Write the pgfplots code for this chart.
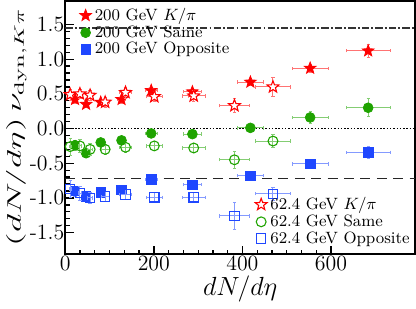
\documentclass[border=0pt]{standalone}
\usepackage{graphicx}
\usepackage{pgfplots}
\usepackage{pgfplotstable}
\pgfplotsset{compat=1.18}
\definecolor{cred}{rgb}{1,0,0}
\definecolor{cgreen}{rgb}{0.12,0.64,0.0}
\definecolor{cblue}{rgb}{0.12,0.28,1.0}

\pgfdeclareplotmark{fivestar}{%
  \pgfpathmoveto{\pgfpointpolar{90}{\pgfplotmarksize}}%
  \pgfpathlineto{\pgfpointpolar{126}{0.42\pgfplotmarksize}}%
  \pgfpathlineto{\pgfpointpolar{162}{\pgfplotmarksize}}%
  \pgfpathlineto{\pgfpointpolar{198}{0.42\pgfplotmarksize}}%
  \pgfpathlineto{\pgfpointpolar{234}{\pgfplotmarksize}}%
  \pgfpathlineto{\pgfpointpolar{270}{0.42\pgfplotmarksize}}%
  \pgfpathlineto{\pgfpointpolar{306}{\pgfplotmarksize}}%
  \pgfpathlineto{\pgfpointpolar{342}{0.42\pgfplotmarksize}}%
  \pgfpathlineto{\pgfpointpolar{18}{\pgfplotmarksize}}%
  \pgfpathlineto{\pgfpointpolar{54}{0.42\pgfplotmarksize}}%
  \pgfpathclose
  \pgfusepathqfillstroke
}

\pgfplotstableread{
x y ex ey
22 0.42 3 0.05
47 0.35 4 0.05
80 0.38 6 0.04
127 0.42 9 0.05
194 0.55 14 0.05
287 0.53 20 0.05
418 0.67 30 0.05
553 0.87 40 0.06
684 1.12 50 0.10
}\hkpi
\pgfplotstableread{
x y ex ey
22 -0.24 3 0.07
47 -0.355 4 0.06
80 -0.20 6 0.05
127 -0.17 9 0.06
194 -0.07 14 0.05
287 -0.08 20 0.05
418 0.01 30 0.04
553 0.16 40 0.09
684 0.30 50 0.13
}\hsame
\pgfplotstableread{
x y ex ey
22 -0.90 3 0.07
47 -0.98 4 0.06
80 -0.92 6 0.05
127 -0.88 9 0.05
194 -0.73 14 0.05
287 -0.81 20 0.05
418 -0.68 30 0.04
553 -0.51 40 0.07
684 -0.34 50 0.09
}\hopp
\pgfplotstableread{
x y ex ey
11 0.49 2 0.08
33 0.50 4 0.07
56 0.48 6 0.07
90 0.38 9 0.07
136 0.52 13 0.08
201 0.46 19 0.07
290 0.47 26 0.08
382 0.33 33 0.10
469 0.60 40 0.14
}\lkpi
\pgfplotstableread{
x y ex ey
11 -0.26 2 0.12
33 -0.25 4 0.10
56 -0.30 6 0.08
90 -0.30 9 0.07
136 -0.27 13 0.07
201 -0.25 19 0.07
290 -0.28 26 0.07
382 -0.45 33 0.12
469 -0.18 40 0.09
}\lsame
\pgfplotstableread{
x y ex ey
11 -0.87 2 0.12
33 -0.93 4 0.10
56 -1.00 6 0.08
90 -0.98 9 0.07
136 -0.95 13 0.07
201 -0.99 19 0.07
290 -0.99 26 0.07
382 -1.26 33 0.19
469 -0.94 40 0.09
}\lopp

\pgfplotsset{
  common/.style={
    scale only axis, width=192pt, height=139pt,
    xmin=0, xmax=790, ymin=-1.81, ymax=1.84,
  },
  ebar/.style={
    error bars/.cd, x dir=both, y dir=both, x explicit, y explicit,
    error bar style={color=#1!55, line width=0.55pt},
    error mark options={rotate=90, mark size=0.9pt, color=#1!55},
  },
  mylegend/.style={draw=none, fill=none, font=\small, inner sep=1pt,
    nodes={inner xsep=1.8pt, inner ysep=0.6pt}, row sep=0.2pt},
}

\begin{document}
\begin{tikzpicture}
\begin{axis}[common,
  axis line style={line width=1pt},
  tick style={black, line width=0.7pt},
  major tick length=4.5pt, minor tick length=2.5pt,
  tick align=inside,
  xtick={0,200,400,600}, minor x tick num=5,
  ytick={-1.5,-1,-0.5,0,0.5,1,1.5}, minor y tick num=4,
  yticklabels={-1.5,-1.0,-0.5,0.0,0.5,1.0,1.5},
  xtick pos=bottom, ytick pos=left,
  ticklabel style={font=\large},
  yticklabel style={xshift=3pt},
  xticklabel style={yshift=2.5pt},
  xlabel={$dN/d\eta$},
  ylabel={\scalebox{1.36}[0.75]{$(dN/d\eta)\,\nu_{\mathrm{dyn},K\pi}$}},
  label style={font=\Large},
  xlabel style={yshift=3.5pt}, ylabel style={yshift=-5pt},
  legend style={mylegend, at={(0.035,0.985)}, anchor=north west},
  legend cell align=left,
]
\draw[black!80, line width=0.8pt, dash pattern=on 4pt off 1.2pt on 1pt off 1.2pt] (axis cs:0,1.45) -- (axis cs:790,1.45);
\draw[black, line width=0.8pt, densely dotted] (axis cs:0,0) -- (axis cs:790,0);
\draw[black!85, line width=0.9pt, dash pattern=on 5.5pt off 3.5pt] (axis cs:0,-0.72) -- (axis cs:790,-0.72);
\addplot[only marks, color=cred, mark=fivestar, mark size=3.4pt, mark options={fill=cred, draw=cred}, ebar=cred]
  table[x=x, y=y, x error=ex, y error=ey] {\hkpi};
\addlegendentry{200 GeV $K/\pi$}
\addplot[only marks, color=cgreen, mark=*, mark size=2.7pt, mark options={fill=cgreen, draw=cgreen}, ebar=cgreen]
  table[x=x, y=y, x error=ex, y error=ey] {\hsame};
\addlegendentry{200 GeV Same}
\addplot[only marks, color=cblue, mark=square*, mark size=2.6pt, mark options={fill=cblue, draw=cblue}, ebar=cblue]
  table[x=x, y=y, x error=ex, y error=ey] {\hopp};
\addlegendentry{200 GeV Opposite}
\end{axis}
\begin{axis}[common, hide axis,
  legend style={mylegend, at={(1.0,0.02)}, anchor=south east},
  legend cell align=left,
]
\addplot[only marks, color=cred, mark=fivestar, mark size=3.4pt, mark options={fill=white, draw=cred, line width=0.6pt}, ebar=cred]
  table[x=x, y=y, x error=ex, y error=ey] {\lkpi};
\addlegendentry{62.4 GeV $K/\pi$}
\addplot[only marks, color=cgreen, mark=o, mark size=2.7pt, mark options={fill=white, draw=cgreen, line width=0.6pt}, ebar=cgreen]
  table[x=x, y=y, x error=ex, y error=ey] {\lsame};
\addlegendentry{62.4 GeV Same}
\addplot[only marks, color=cblue, mark=square, mark size=2.6pt, mark options={fill=white, draw=cblue, line width=0.6pt}, ebar=cblue]
  table[x=x, y=y, x error=ex, y error=ey] {\lopp};
\addlegendentry{62.4 GeV Opposite}
\end{axis}
\end{tikzpicture}
\end{document}
